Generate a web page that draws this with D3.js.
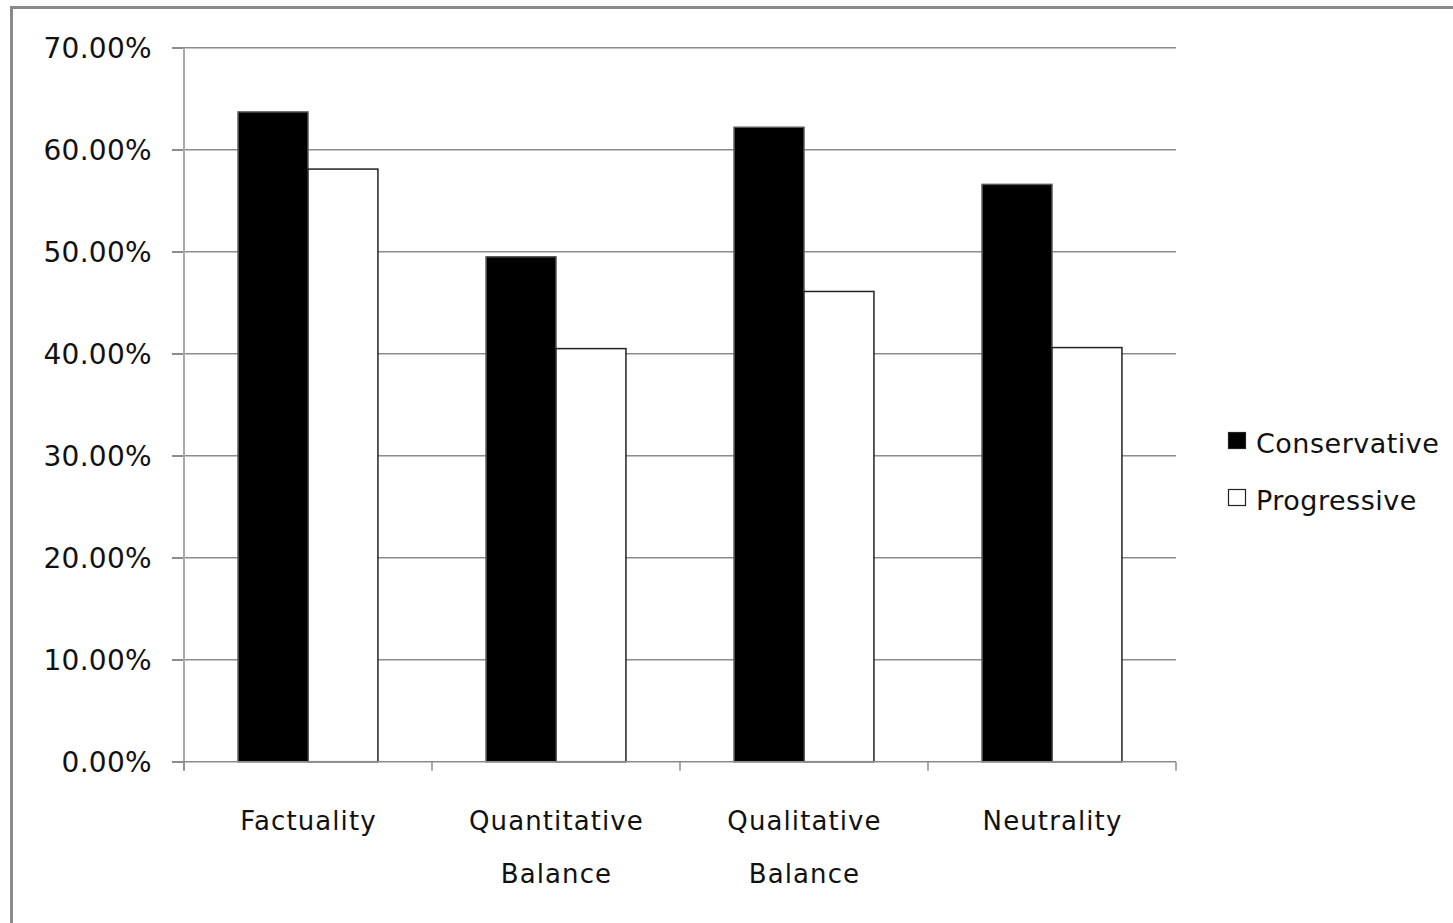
<!DOCTYPE html>
<html>
<head>
<meta charset="utf-8">
<script src="https://cdn.jsdelivr.net/npm/d3@7"></script>
<style>
  body { margin: 0; background: #fff; }
  svg { display: block; }
</style>
</head>
<body>
<svg id="chart" width="1453" height="923"></svg>
<script>
// values
let categories = [["Factuality"], ["Quantitative", "Balance"], ["Qualitative", "Balance"], ["Neutrality"]]
let seriesNames = ["Conservative", "Progressive"]
let conservative = [63.7, 49.5, 62.2, 56.6]
let progressive = [58.1, 40.5, 46.1, 40.6]
let yTicks = [0, 10, 20, 30, 40, 50, 60, 70]

let fills = {"Conservative": "#000", "Progressive": "#fff"}
let strokes = {"Conservative": "#555", "Progressive": "#222"}

let font = "'DejaVu Sans', sans-serif"
let svg = d3.select("#chart")

// outer frame (only left and top show in the picture)
svg.append("path")
    .attr("d", "M11.5,923 V7.5 H1453")
    .attr("fill", "none")
    .attr("stroke", "#8a8a8a")
    .attr("stroke-width", 3)

let plotLeft = 184, plotRight = 1176, plotTop = 47.7, plotBottom = 761.7

let yScale = d3.scaleLinear().domain([0, 70]).range([plotBottom, plotTop])
let xScale = d3.scaleBand()
    .domain(categories.map(c => c.join(" ")))
    .range([plotLeft, plotRight])
let barW = xScale.bandwidth() * 0.282

// gridlines
svg.append("g")
    .selectAll("line")
    .data(yTicks.filter(t => t > 0))
    .join("line")
    .attr("x1", plotLeft - 12)
    .attr("x2", plotRight)
    .attr("y1", d => yScale(d))
    .attr("y2", d => yScale(d))
    .attr("stroke", "#8c8c8c")
    .attr("stroke-width", 1.5)

// y axis
let yAxis = svg.append("g")
    .attr("transform", `translate(${plotLeft},0)`)
    .call(d3.axisLeft(yScale).tickValues(yTicks).tickSize(12).tickFormat(d => d3.format(".2f")(d) + "%"))
yAxis.select(".domain").remove()
yAxis.selectAll(".tick line").attr("stroke", "#8c8c8c").attr("stroke-width", 1.5)
yAxis.selectAll(".tick text")
    .attr("x", -32)
    .attr("dy", "0.36em")
    .style("font-family", font)
    .style("font-size", "28px")
    .style("letter-spacing", "0.3px")
    .attr("fill", "#111")
svg.append("line")
    .attr("x1", plotLeft).attr("x2", plotLeft)
    .attr("y1", plotTop).attr("y2", plotBottom + 9)
    .attr("stroke", "#aaa")
    .attr("stroke-width", 2)

// bars
let rows = categories.map((c, i) => ({key: c.join(" "), Conservative: conservative[i], Progressive: progressive[i]}))
seriesNames.forEach((s, si) => {
    svg.append("g")
        .selectAll("rect")
        .data(rows)
        .join("rect")
        .attr("x", d => xScale(d.key) + xScale.bandwidth() / 2 - barW + si * barW)
        .attr("y", d => yScale(d[s]))
        .attr("width", barW)
        .attr("height", d => plotBottom - yScale(d[s]))
        .attr("fill", fills[s])
        .attr("stroke", strokes[s])
        .attr("stroke-width", 1.5)
})

// x axis
svg.append("line")
    .attr("x1", plotLeft - 12).attr("x2", plotRight)
    .attr("y1", plotBottom).attr("y2", plotBottom)
    .attr("stroke", "#8c8c8c")
    .attr("stroke-width", 1.5)
let bounds = xScale.domain().map(k => xScale(k)).concat([plotRight])
svg.append("g")
    .selectAll("line")
    .data(bounds)
    .join("line")
    .attr("x1", d => d).attr("x2", d => d)
    .attr("y1", plotBottom).attr("y2", plotBottom + 9)
    .attr("stroke", "#8c8c8c")
    .attr("stroke-width", 1.5)

svg.append("g")
    .selectAll("text")
    .data(categories)
    .join("text")
    .attr("x", d => xScale(d.join(" ")) + xScale.bandwidth() / 2)
    .attr("y", 830)
    .attr("text-anchor", "middle")
    .style("font-family", font)
    .style("font-size", "26px")
    .style("letter-spacing", "1.1px")
    .attr("fill", "#111")
    .each(function(d) {
        let t = d3.select(this)
        d.forEach((line, i) => {
            t.append("tspan")
                .attr("x", xScale(d.join(" ")) + xScale.bandwidth() / 2 + 0.5)
                .attr("dy", i === 0 ? 0 : 53)
                .text(line)
        })
    })

// legend
let legend = svg.append("g")
    .selectAll("g")
    .data(seriesNames)
    .join("g")
    .attr("transform", (d, i) => `translate(1228,${432 + i * 57})`)
legend.append("rect")
    .attr("x", 0.5).attr("y", 0.5)
    .attr("width", 17).attr("height", 16)
    .attr("fill", d => fills[d])
    .attr("stroke", "#222")
    .attr("stroke-width", 1.2)
legend.append("text")
    .attr("x", 28)
    .attr("y", 21)
    .style("font-family", font)
    .style("font-size", "27px")
    .style("letter-spacing", "0.5px")
    .attr("fill", "#111")
    .text(d => d)
</script>
</body>
</html>
